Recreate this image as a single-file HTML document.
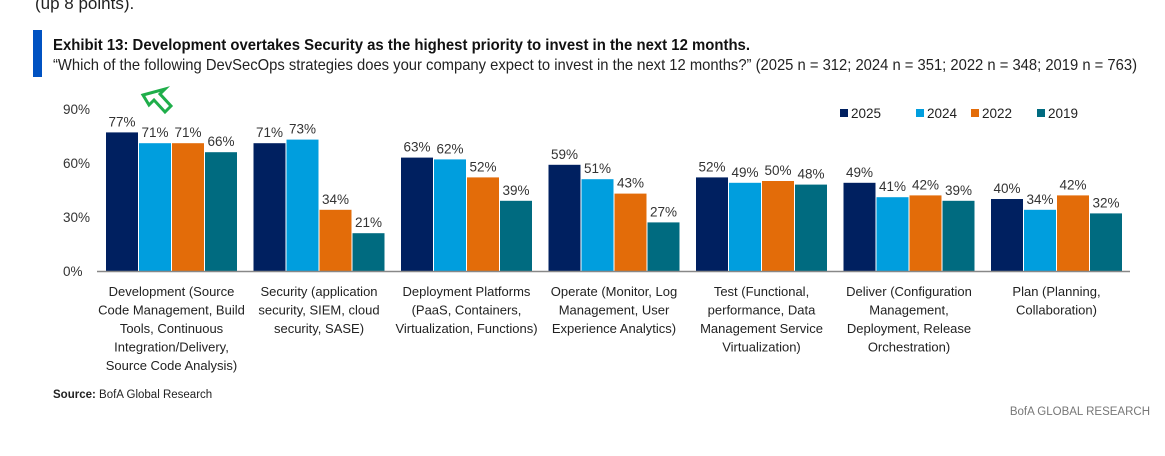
<!DOCTYPE html>
<html><head><meta charset="utf-8"><style>
html,body{margin:0;padding:0;background:#fff;width:1165px;height:456px;overflow:hidden}
text{font-family:"Liberation Sans",sans-serif}
</style></head><body>
<svg id="chart" width="1165" height="456" xmlns="http://www.w3.org/2000/svg">
<text x="35" y="9" font-size="17" fill="#222">(up 8 points).</text>
<rect x="33" y="30" width="9" height="47" fill="#0052c2"/>
<text x="53" y="50" font-size="16" font-weight="bold" fill="#111" textLength="697" lengthAdjust="spacingAndGlyphs">Exhibit 13: Development overtakes Security as the highest priority to invest in the next 12 months.</text>
<text x="53" y="70" font-size="16" fill="#222" textLength="1084" lengthAdjust="spacingAndGlyphs">“Which of the following DevSecOps strategies does your company expect to invest in the next 12 months?” (2025 n = 312; 2024 n = 351; 2022 n = 348; 2019 n = 763)</text>
<g id="yaxis"></g><g id="bars"></g><g id="xlabels"></g><g id="legend"></g>
<line x1="97" y1="271.5" x2="1130" y2="271.5" stroke="#888" stroke-width="1.5"/>
<path d="M143,95 L165,89 L160,94 L171,106 L165,112 L154,100 L149,105 Z" fill="none" stroke="#1fae4a" stroke-width="3" stroke-linejoin="miter"/>
<text x="53" y="398" font-size="11.5" fill="#222"><tspan font-weight="bold">Source:</tspan> BofA Global Research</text>
<text x="1150" y="415" font-size="11.5" fill="#777" text-anchor="end">BofA GLOBAL RESEARCH</text>
</svg>
<script>
const categories=[["Development (Source","Code Management, Build","Tools, Continuous","Integration/Delivery,","Source Code Analysis)"],["Security (application","security, SIEM, cloud","security, SASE)"],["Deployment Platforms","(PaaS, Containers,","Virtualization, Functions)"],["Operate (Monitor, Log","Management, User","Experience Analytics)"],["Test (Functional,","performance, Data","Management Service","Virtualization)"],["Deliver (Configuration","Management,","Deployment, Release","Orchestration)"],["Plan (Planning,","Collaboration)"]];
const seriesNames=["2025","2024","2022","2019"];
const s2025=[77,71,63,59,52,49,40];
const s2024=[71,73,62,51,49,41,34];
const s2022=[71,34,52,43,50,42,42];
const s2019=[66,21,39,27,48,39,32];
const yTicks=[0,30,60,90];
const colors=["#002060","#009ede","#e36c09","#006b80"];
const NS="http://www.w3.org/2000/svg";
const series=[s2025,s2024,s2022,s2019];
const x0=97,bandW=147.5,barW=32,barGap=1,barOff=9;
const y=v=>271-v*1.8;
const bx=(c,s)=>x0+c*bandW+barOff+s*(barW+barGap);
function mk(tag,attrs,parent,txt){const e=document.createElementNS(NS,tag);for(const k in attrs)e.setAttribute(k,attrs[k]);if(txt!=null)e.textContent=txt;parent.appendChild(e);return e;}
const ya=document.getElementById('yaxis');
yTicks.forEach(t=>{const e=mk('text',{x:63,y:y(t)+5,'font-size':13.5,fill:'#333'},ya,t+'%');

});
const bg=document.getElementById('bars');
series.forEach((arr,s)=>arr.forEach((v,c)=>{
const r=mk('rect',{x:bx(c,s),y:y(v),width:barW,height:v*1.8,fill:colors[s]},bg);


const t=mk('text',{x:bx(c,s)+barW/2,y:y(v)-6,'font-size':13.5,fill:'#333','text-anchor':'middle'},bg,v+'%');

}));
const xl=document.getElementById('xlabels');
categories.forEach((lines,c)=>{const cx=x0+c*bandW+barOff+(4*barW+3*barGap)/2;
lines.forEach((l,i)=>{const t=mk('text',{x:cx,y:296+i*18.5,'font-size':13,fill:'#222','text-anchor':'middle'},xl,l);

});});
const lg=document.getElementById('legend');
const lx=[840,916,971,1037];
seriesNames.forEach((n,i)=>{const g=mk('g',{},lg);


mk('rect',{x:lx[i],y:109,width:8,height:8,fill:colors[i]},g);
mk('text',{x:lx[i]+11,y:118,'font-size':13.5,fill:'#222'},g,n);});
</script>
</body></html>
